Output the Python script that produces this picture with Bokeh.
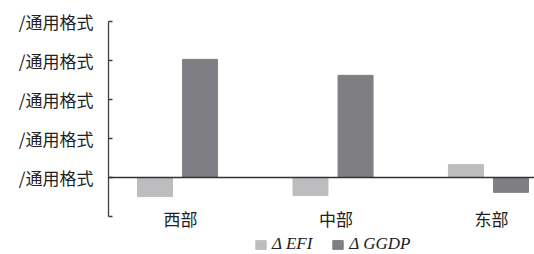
from bokeh.plotting import figure
from bokeh.models import ColumnDataSource, Span, Legend, LegendItem, FixedTicker, Range1d
from bokeh.core.properties import value
from bokeh.embed import file_html
from bokeh.resources import INLINE

categories = ["西部", "中部", "东部"]
efi = [-0.49, -0.46, 0.33]
ggdp = [3.03, 2.62, -0.38]
y_ticks = [-1, 0, 1, 2, 3, 4]
y_tick_labels = ["", "/通用格式", "/通用格式", "/通用格式", "/通用格式", "/通用格式"]
series_names = ["Δ EFI", "Δ GGDP"]
colors = ["#bdbdbf", "#7f7f83"]

idx = list(range(len(categories)))
offset = 0.145
bw = 0.225
y_min_axis = y_ticks[0]
y_max_axis = y_ticks[-1]

src = ColumnDataSource(dict(
    x_efi=[i - offset for i in idx],
    x_ggdp=[i + offset for i in idx],
    efi=efi,
    ggdp=ggdp,
))
lab_src = ColumnDataSource(dict(x=idx, y=[y_min_axis] * len(idx), text=categories))

p = figure(width=534, height=254, output_backend="svg", toolbar_location=None,
           x_range=Range1d(-0.444, 2.296), y_range=Range1d(-1.974, 4),
           min_border_left=108, min_border_right=0, min_border_top=21,
           min_border_bottom=0)
p.outline_line_color = None
p.xgrid.visible = False
p.ygrid.visible = False
p.xaxis.visible = False
p.background_fill_color = "white"
p.border_fill_color = "white"

r1 = p.vbar(x="x_efi", top="efi", bottom=0, width=bw, color=colors[0], source=src)
r2 = p.vbar(x="x_ggdp", top="ggdp", bottom=0, width=bw, color=colors[1], source=src)

p.add_layout(Span(location=0, dimension="width", line_color="#333333", line_width=1.3))

# category labels
p.text(x="x", y="y", text="text", source=lab_src, text_align="center",
       text_baseline="middle", x_offset=3, y_offset=2,
       text_font=value("Noto Sans CJK SC"), text_font_size="17px",
       text_color="#222222")

# y axis
ya = p.yaxis[0]
ya.bounds = (y_min_axis, y_max_axis)
ya.ticker = FixedTicker(ticks=y_ticks)
ya.major_label_overrides = {t: l for t, l in zip(y_ticks, y_tick_labels)}
ya.major_tick_in = 4
ya.major_tick_out = 0
ya.minor_tick_line_color = None
ya.axis_line_color = "#404040"
ya.axis_line_width = 1.3
ya.major_tick_line_color = "#404040"
ya.major_tick_line_width = 1.3
ya.major_label_text_font = "Noto Sans CJK SC"
ya.major_label_text_font_size = "17px"
ya.major_label_text_color = "#222222"
ya.major_label_standoff = 15

legend = Legend(items=[LegendItem(label=series_names[0], renderers=[r1]),
                       LegendItem(label=series_names[1], renderers=[r2])],
                location=(146, 0), orientation="horizontal")
legend.border_line_color = None
legend.background_fill_alpha = 0
legend.padding = 0
legend.margin = 0
legend.glyph_width = 13
legend.glyph_height = 11
legend.label_standoff = 5
legend.spacing = 19
legend.label_height = 16
legend.label_text_font = "Liberation Serif"
legend.label_text_font_style = "italic"
legend.label_text_font_size = "17px"
legend.label_text_color = "#222222"
p.add_layout(legend, "center")

open("out.html", "w").write(file_html(p, INLINE))
